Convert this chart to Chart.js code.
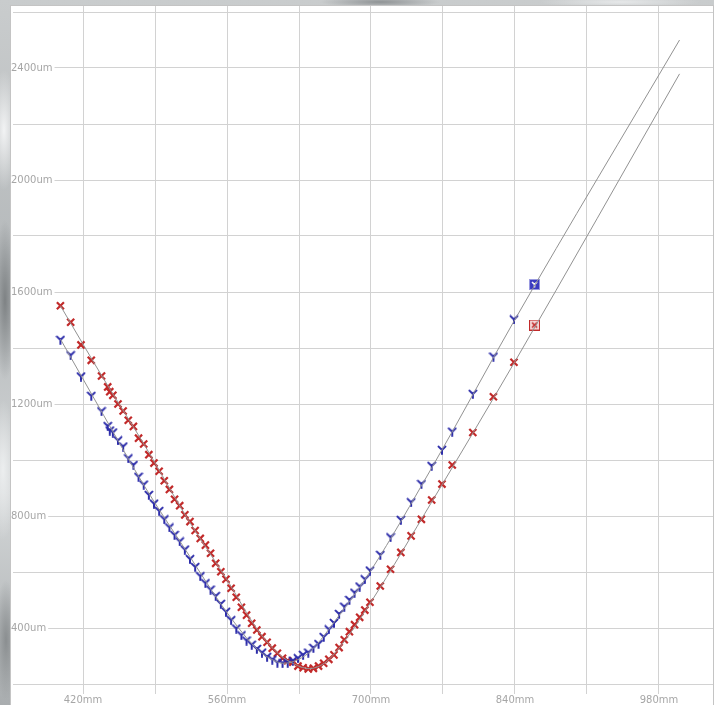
<!DOCTYPE html>
<html>
<head>
<meta charset="utf-8">
<script src="https://cdn.jsdelivr.net/npm/chart.js"></script>
<style>
    html, body { margin: 0; padding: 0; width: 714px; height: 705px; overflow: hidden; }
    body {
        background:
            radial-gradient(ellipse 14px 60px at 4px 130px, #f2f3f4 0, rgba(242,243,244,0) 100%),
            radial-gradient(ellipse 12px 80px at 5px 300px, #7e8284 0, rgba(126,130,132,0) 100%),
            radial-gradient(ellipse 14px 70px at 3px 470px, #eceeef 0, rgba(236,238,239,0) 100%),
            radial-gradient(ellipse 12px 60px at 6px 640px, #8a8e90 0, rgba(138,142,144,0) 100%),
            radial-gradient(ellipse 60px 6px at 380px 2px, #8f9395 0, rgba(143,147,149,0) 100%),
            radial-gradient(ellipse 80px 6px at 620px 2px, #e6e8e9 0, rgba(230,232,233,0) 100%),
            linear-gradient(180deg, #c9cccd, #b4b8ba 40%, #d3d6d7 70%, #a9adaf);
    }
    #wrap { position: absolute; left: 10px; top: 5px; width: 704px; height: 700px; }
</style>
</head>
<body>
<div id="wrap"><canvas id="beam" width="704" height="700"></canvas></div>

<script>
    // measurement positions (mm), shared by both series
    const zPos = [398, 408, 418, 428, 438, 444, 446, 449,
        454, 459, 464, 469, 474, 479, 484, 489, 494, 499,
        504, 509, 514, 519, 524, 529, 534, 539, 544, 549,
        554, 559, 564, 569, 574, 579, 584, 589, 594, 599,
        604, 609, 614, 619, 624, 629, 634, 639, 644, 649,
        654, 659, 664, 669, 674, 679, 684, 689, 694, 699,
        709, 719, 729, 739, 749, 759, 769, 779,
        799, 819, 839];

    // beam size (um), red "x" series
    const redSize = [1551, 1492, 1411, 1356, 1300, 1261, 1244, 1231,
        1200, 1175, 1142, 1120, 1078, 1057, 1019, 989, 960, 926,
        895, 860, 837, 804, 780, 748, 720, 696, 667, 631,
        601, 574, 542, 510, 474, 446, 417, 393, 369, 349,
        328, 310, 292, 283, 278, 264, 258, 254, 256, 264,
        274, 288, 304, 330, 358, 387, 412, 438, 464, 492,
        550, 610, 670, 729, 788, 857, 914, 982,
        1098, 1226, 1349];

    // beam size (um), blue "Y" series
    const blueSize = [1429, 1374, 1298, 1229, 1174, 1121, 1105, 1098,
        1070, 1048, 1006, 982, 940, 912, 875, 844, 818, 788,
        759, 732, 709, 680, 646, 618, 585, 560, 537, 514,
        486, 458, 428, 398, 374, 355, 340, 325, 312, 297,
        287, 276, 274, 276, 283, 292, 304, 312, 329, 343,
        368, 395, 418, 450, 476, 500, 526, 548, 574, 605,
        661, 724, 786, 849, 914, 979, 1036, 1101,
        1236, 1369, 1502];

    // last (highlighted) measurement
    const lastZ = 859;
    const redLast = 1482;
    const blueLast = 1627;

    // fitted curves
    const blueFitZ = [398, 440, 480, 520, 560, 590, 605, 615, 625, 640, 670, 700, 760, 840, 1000];
    const blueFitV = [1432, 1160, 905, 677, 455, 322, 285, 274, 281, 313, 450, 606, 978, 1502, 2500];
    const redFitZ = [398, 440, 480, 520, 560, 590, 610, 625, 640, 655, 670, 700, 760, 840, 1000];
    const redFitV = [1551, 1290, 1052, 800, 572, 392, 308, 272, 255, 275, 333, 493, 856, 1352, 2379];

    // axes
    const xGrid = [420, 490, 560, 630, 700, 770, 840, 910, 980];
    const xLabels = ['420mm', '', '560mm', '', '700mm', '', '840mm', '', '980mm'];
    const yGrid = [200, 400, 600, 800, 1000, 1200, 1400, 1600, 1800, 2000, 2200, 2400, 2600];
    const yLabels = ['', '400um', '', '800um', '', '1200um', '', '1600um', '', '2000um', '', '2400um', ''];

    const RED = '#c22a2a';
    const BLUE = '#2c2caa';

    function pts(xs, ys) {
        return xs.map((x, i) => ({ x: x, y: ys[i] }));
    }

    function yMarker(color) {
        const c = document.createElement('canvas');
        c.width = 10; c.height = 10;
        const g = c.getContext('2d');
        g.strokeStyle = color;
        g.lineWidth = 2;
        g.lineCap = 'round';
        g.beginPath();
        g.moveTo(5, 5); g.lineTo(1.5, 1.6);
        g.moveTo(5, 5); g.lineTo(8.5, 1.6);
        g.moveTo(5, 5); g.lineTo(5, 9);
        g.stroke();
        return c;
    }

    function boxMarker(fill, edge, mark, kind) {
        const c = document.createElement('canvas');
        c.width = 11; c.height = 11;
        const g = c.getContext('2d');
        g.fillStyle = fill;
        g.fillRect(0.5, 0.5, 10, 10);
        g.strokeStyle = edge;
        g.lineWidth = 1;
        g.strokeRect(0.5, 0.5, 10, 10);
        g.strokeStyle = mark;
        g.lineWidth = 1.6;
        g.beginPath();
        if (kind === 'y') {
            g.moveTo(5.5, 5.5); g.lineTo(3, 3);
            g.moveTo(5.5, 5.5); g.lineTo(8, 3);
            g.moveTo(5.5, 5.5); g.lineTo(5.5, 8.5);
        } else {
            g.moveTo(3, 3); g.lineTo(8, 8);
            g.moveTo(8, 3); g.lineTo(3, 8);
        }
        g.stroke();
        return c;
    }

    const plotFrame = {
        id: 'plotFrame',
        beforeDraw(chart) {
            const a = chart.chartArea, ctx = chart.ctx;
            ctx.save();
            ctx.fillStyle = '#ffffff';
            ctx.fillRect(a.left, a.top, a.right - a.left, a.bottom - a.top);
            ctx.restore();
        },
        afterDraw(chart) {
            const a = chart.chartArea, ctx = chart.ctx;
            ctx.save();
            ctx.strokeStyle = '#c4c4c4';
            ctx.lineWidth = 1;
            ctx.strokeRect(a.left + 0.5, a.top + 0.5, a.right - a.left - 1, a.bottom - a.top);
            ctx.restore();
        }
    };

    // labels sit inside the plot, so the axes take no room at all
    function noRoom(s) {
        if (s.isHorizontal()) s.height = 0; else s.width = 0;
        s.paddingTop = s.paddingBottom = s.paddingLeft = s.paddingRight = 0;
    }

    const fitLine = (data) => ({
        type: 'line',
        data: data,
        borderColor: '#929292',
        borderWidth: 1,
        pointRadius: 0,
        fill: false,
        cubicInterpolationMode: 'monotone'
    });

    new Chart(document.getElementById('beam').getContext('2d'), {
        type: 'scatter',
        data: {
            datasets: [
                fitLine(pts(blueFitZ, blueFitV)),
                fitLine(pts(redFitZ, redFitV)),
                {
                    data: pts(zPos, blueSize),
                    pointStyle: yMarker(BLUE),
                    pointRadius: 4,
                    showLine: false
                },
                {
                    data: pts(zPos, redSize),
                    pointStyle: 'crossRot',
                    pointRadius: 5,
                    borderColor: RED,
                    borderWidth: 2.2,
                    showLine: false
                },
                {
                    data: [{ x: lastZ, y: blueLast }],
                    pointStyle: boxMarker('#3a3ac0', '#9a9ae0', '#ffffff', 'y'),
                    pointRadius: 5
                },
                {
                    data: [{ x: lastZ, y: redLast }],
                    pointStyle: boxMarker('#f4d6d6', RED, RED, 'x'),
                    pointRadius: 5
                }
            ]
        },
        options: {
            responsive: false,
            animation: false,
            devicePixelRatio: 1,
            layout: { padding: 0, autoPadding: false },
            plugins: { legend: { display: false }, tooltip: { enabled: false } },
            scales: {
                x: {
                    type: 'linear',
                    position: 'bottom',
                    min: 349,
                    max: 1033.5,
                    afterBuildTicks: (s) => { s.ticks = xGrid.map(v => ({ value: v })); },
                    afterFit: noRoom,
                    grid: { color: '#d2d2d2', lineWidth: 1, drawTicks: false },
                    border: { display: false },
                    ticks: {
                        mirror: true,
                        padding: -1,
                        autoSkip: false,
                        maxRotation: 0,
                        color: '#a6a6a6',
                        font: { family: 'DejaVu Sans', size: 10 },
                        showLabelBackdrop: true,
                        backdropColor: '#ffffff',
                        backdropPadding: { x: 2, y: 0 },
                        callback: (v, i) => xLabels[i]
                    }
                },
                y: {
                    type: 'linear',
                    min: 125,
                    max: 2625,
                    afterBuildTicks: (s) => { s.ticks = yGrid.map(v => ({ value: v })); },
                    afterFit: noRoom,
                    grid: { color: '#d2d2d2', lineWidth: 1, drawTicks: false },
                    border: { display: false },
                    ticks: {
                        mirror: true,
                        padding: 1,
                        autoSkip: false,
                        color: '#a6a6a6',
                        font: { family: 'DejaVu Sans', size: 10 },
                        showLabelBackdrop: true,
                        backdropColor: '#ffffff',
                        backdropPadding: { x: 2, y: 0 },
                        callback: (v, i) => yLabels[i]
                    }
                }
            }
        },
        plugins: [plotFrame]
    });
</script>
</body>
</html>
